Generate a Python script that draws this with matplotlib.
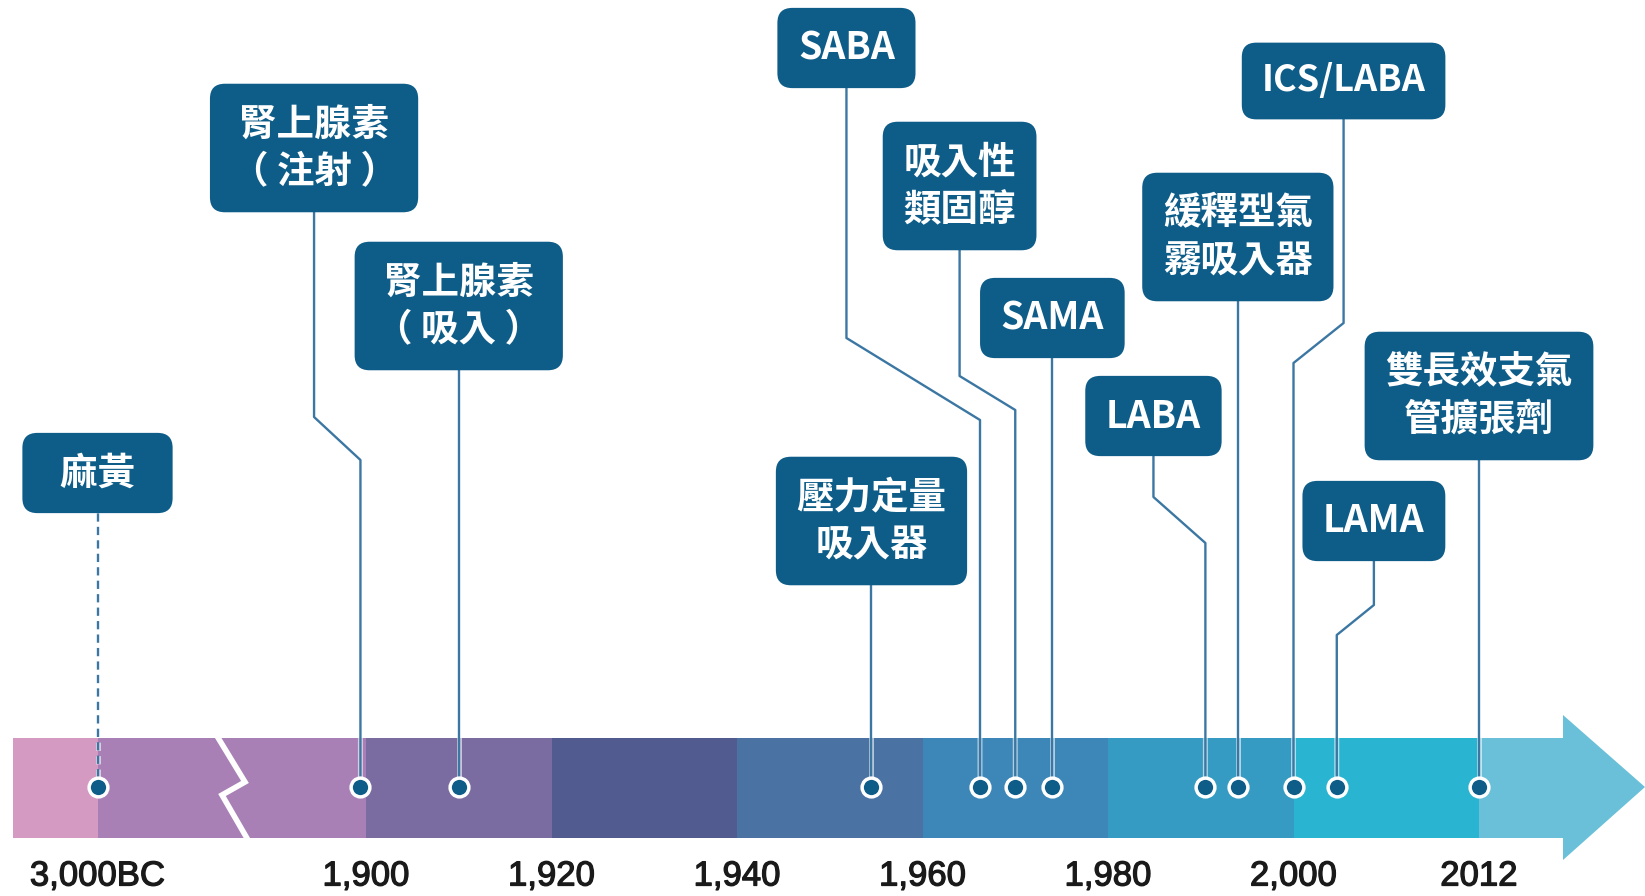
import numpy as np
import matplotlib
matplotlib.use('Agg')
import matplotlib.pyplot as plt
from matplotlib.patches import Polygon
import matplotlib.patheffects as pe

plt.rcParams['font.family'] = ['Noto Sans CJK TC', 'DejaVu Sans']

# Timeline ticks (3,000BC, then a break, then 20-year steps; 2012 sits one step after 2000)
tick_years = [-3000, 1900, 1920, 1940, 1960, 1980, 2000, 2012]
tick_labels = ['3,000BC', '1,900', '1,920', '1,940', '1,960', '1,980', '2,000', '2012']

# Milestones
event_names = ['  麻黃  ', '腎上腺素\n（ 注射 ）', '腎上腺素\n（ 吸入 ）', '壓力定量\n吸入器',
               'SABA', '吸入性\n類固醇', 'SAMA', 'LABA', '緩釋型氣\n霧吸入器',
               'ICS/LABA', 'LAMA', '雙長效支氣\n管擴張劑']
event_years = [-3000, 1899.4, 1910, 1954.5, 1966.2, 1970, 1974, 1990.5, 1994,
               2000, 2002.8, 2012]

# Label layout: box centre (x offset in timeline units from the dot, y in px)
label_dx = [0, -0.25, 0, 0, -0.72, -0.30, 0, -0.28, 0, 0.27, 0.20, 0]
label_y = [473, 148, 306, 521, 48, 186, 318, 416, 237, 81, 521, 396]
# connector bends (start of diagonal, end of diagonal), px
bends = [None, (417, 460), None, None, (338, 420), (376, 410), None,
         (497, 543), None, (323, 363), (605, 635), None]

seg_colors = ['#D49AC1', '#A880B6', '#7A6BA0', '#525B8F', '#4A72A3',
              '#3C87B8', '#369BC2', '#29B5D1']
arrow_color = '#69C0D8'
box_color = '#0E5D89'
line_color = '#3B77A2'

# geometry of the drawing (pixel based layout)
W, H = 1645, 896
x0_px, unit_px = 366, 185.5
bar_top, bar_bot = 738, 838
dot_y = 787
bc_pos = (97.5 - x0_px) / unit_px
bar_left = (12.5 - x0_px) / unit_px


def to_x(year):
    return np.interp(year, [-3000, 1880, 2000, 2012], [bc_pos, -1.0, 5.0, 6.0])


tick_x = to_x(np.array(tick_years, dtype=float))
event_x = to_x(np.array(event_years, dtype=float))

fig = plt.figure(figsize=(W / 100, H / 100), dpi=100)
ax = fig.add_axes([0, 0, 1, 1])
ax.set_xlim(-x0_px / unit_px, (W - x0_px) / unit_px)
ax.set_ylim(H, 0)
ax.axis('off')

# coloured bar segments
edges = np.concatenate([[bar_left], tick_x])
ax.bar(edges[:-1], bar_bot - bar_top, width=np.diff(edges), bottom=bar_top,
       align='edge', color=seg_colors, linewidth=0, zorder=1)

# arrow at the end
head_base = (1563 - x0_px) / unit_px
tip = (W - x0_px) / unit_px
arrow = Polygon([(tick_x[-1], bar_top), (head_base, bar_top), (head_base, 715),
                 (tip, dot_y), (head_base, 860), (head_base, bar_bot),
                 (tick_x[-1], bar_bot)], closed=True, facecolor=arrow_color,
                edgecolor='none', zorder=1)
ax.add_patch(arrow)

# break mark between 3,000BC and 1,900
brk = [(217 - x0_px) / unit_px, (245 - x0_px) / unit_px,
       (222 - x0_px) / unit_px, (248 - x0_px) / unit_px]
ax.plot(brk, [bar_top - 2, 782, 795, bar_bot + 2], color='white', lw=4,
        solid_joinstyle='miter', zorder=2)

# tick labels
bold_fx = [pe.Stroke(linewidth=0.9, foreground='#1a1a1a'), pe.Normal()]
for x, lab in zip(tick_x, tick_labels):
    ax.text(x, 876, lab, ha='center', va='center', fontsize=25,
            family=['Liberation Sans', 'DejaVu Sans'], color='#1a1a1a',
            path_effects=bold_fx)

halo = [pe.Stroke(linewidth=3.6, foreground='white', alpha=0.6), pe.Normal()]

for i, name in enumerate(event_names):
    ex = event_x[i]
    lx = ex + label_dx[i]
    ly = label_y[i]
    if bends[i] is None:
        xs, ys = [lx, ex], [ly, dot_y]
    else:
        b1, b2 = bends[i]
        xs, ys = [lx, lx, ex, ex], [ly, b1, b2, dot_y]
    ls = (0, (3.5, 2.2)) if i == 0 else '-'
    ax.plot(xs, ys, color=line_color, lw=1.7, ls=ls, solid_joinstyle='round',
            path_effects=halo, zorder=3)
    fs = 26 if name == 'ICS/LABA' else 27
    ax.text(lx, ly, name, ha='center', va='center', multialignment='center',
            fontsize=fs, fontweight='bold', color='white', linespacing=1.3,
            bbox=dict(boxstyle='round,pad=0.55,rounding_size=0.4',
                      facecolor=box_color, edgecolor='none'), zorder=5)
    ax.plot(ex, dot_y, 'o', ms=13.5, mfc=box_color, mec='white', mew=2.5, zorder=6)

fig.savefig('out.png', dpi=100)
